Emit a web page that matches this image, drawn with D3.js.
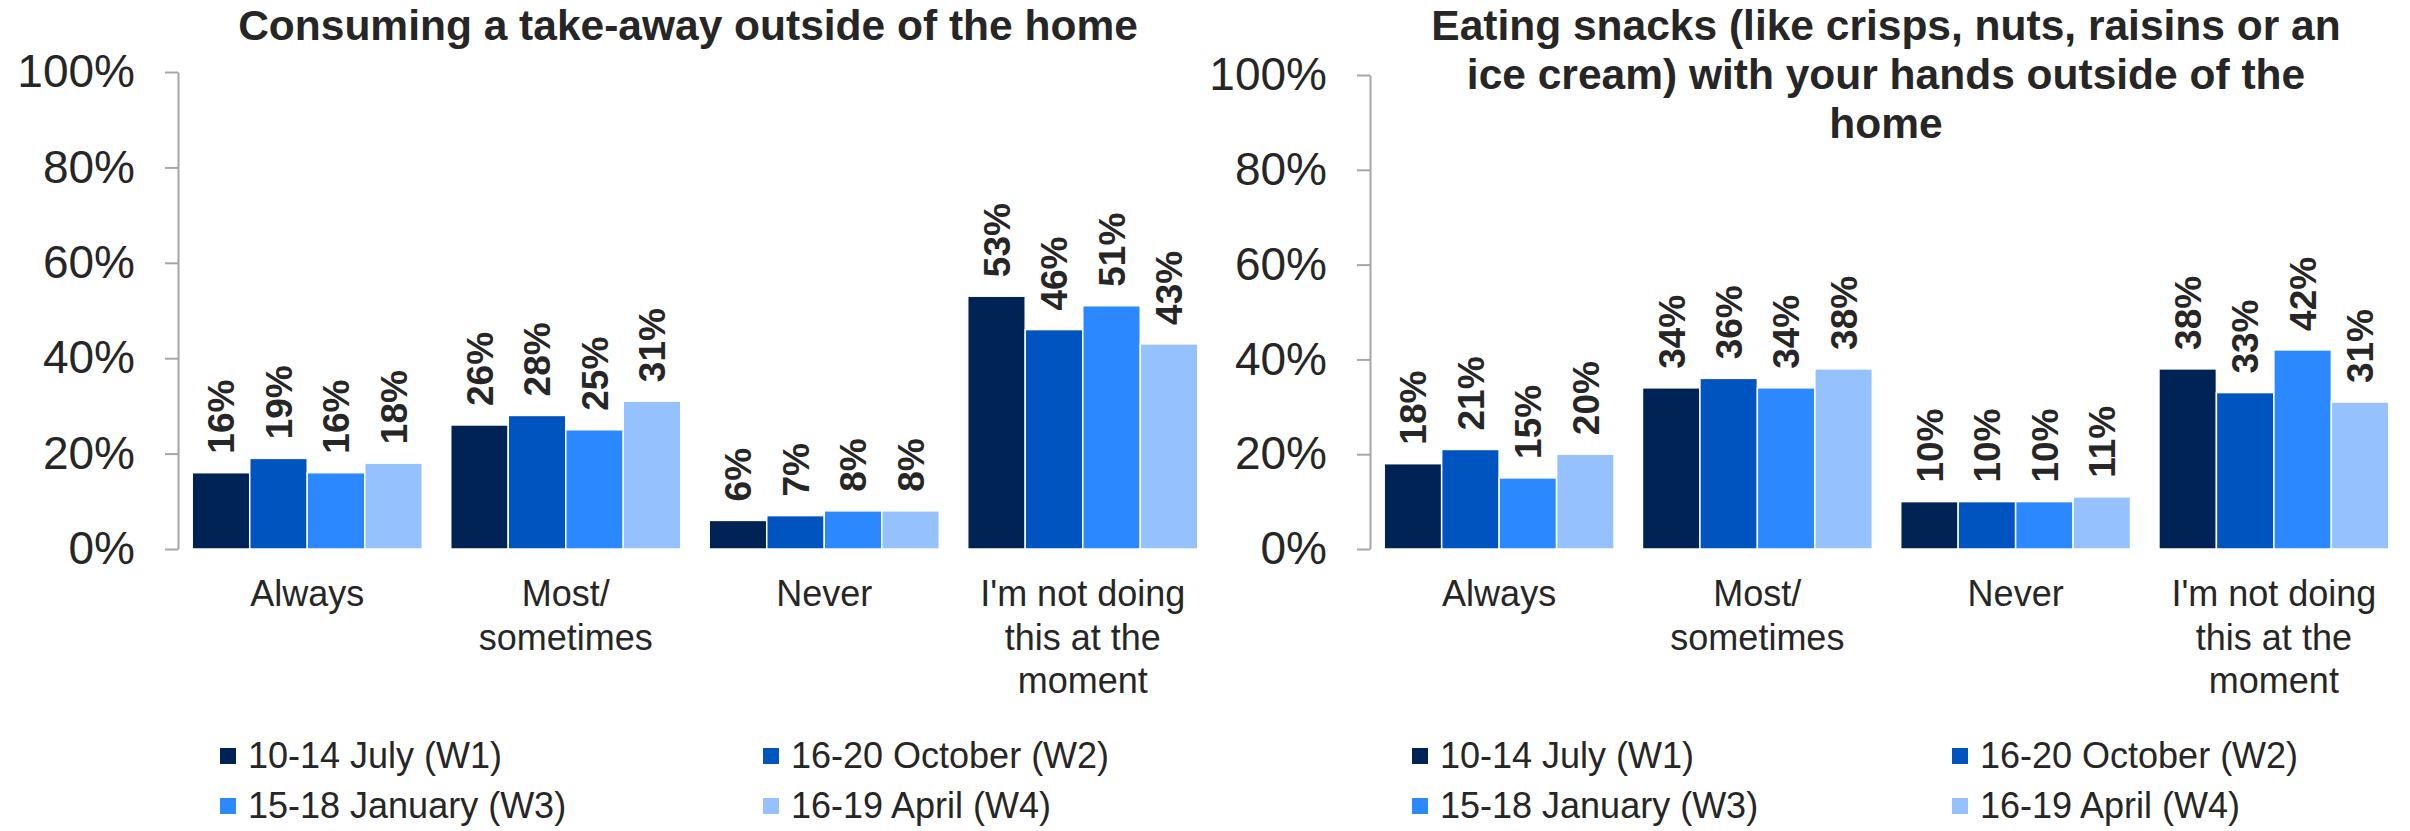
<!DOCTYPE html>
<html>
<head>
<meta charset="utf-8">
<script src="https://cdn.jsdelivr.net/npm/d3@7"></script>
<style>
  body { margin: 0; background: #fff; }
  text { font-family: "Liberation Sans", Arial, sans-serif; fill: #262626; }
</style>
</head>
<body>
<script>
// categories on the x axis, shared by both panels
var categories = ["Always", "Most/ sometimes", "Never", "I'm not doing this at the moment"];
var waves = ["10-14 July (W1)", "16-20 October (W2)", "15-18 January (W3)", "16-19 April (W4)"];
var waveColors = ["#002355", "#0054C0", "#2B88FF", "#95C2FF"];
var yTicks = [0, 20, 40, 60, 80, 100];

// one row per category, one value per wave
var takeawayValues = [
    [16, 19, 16, 18],
    [26, 28, 25, 31],
    [6, 7, 8, 8],
    [53, 46, 51, 43]
];
var snackValues = [
    [18, 21, 15, 20],
    [34, 36, 34, 38],
    [10, 10, 10, 11],
    [38, 33, 42, 31]
];

var takeawayTitle = ["Consuming a take-away outside of the home"];
var snackTitle = ["Eating snacks (like crisps, nuts, raisins or an",
    "ice cream) with your hands outside of the", "home"];

var svg = d3.select("body").append("svg")
    .attr("width", 2410)
    .attr("height", 831);

function wrap(textSel, width, lineHeight) {
    textSel.each(function () {
        var text = d3.select(this),
            words = text.text().split(/\s+/),
            x = text.attr("x"),
            line = [],
            tspan = text.text(null).append("tspan").attr("x", x).attr("dy", 0);
        words.forEach(function (w) {
            line.push(w);
            tspan.text(line.join(" "));
            if (tspan.node().getComputedTextLength() > width && line.length > 1) {
                line.pop();
                tspan.text(line.join(" "));
                line = [w];
                tspan = text.append("tspan").attr("x", x).attr("dy", lineHeight).text(w);
            }
        });
    });
}

function drawChart(cfg) {
    var g = svg.append("g");

    var x0 = d3.scaleBand()
        .domain(categories)
        .range([cfg.left, cfg.right])
        .paddingInner(0.11)
        .paddingOuter(0.055);

    var x1 = d3.scaleBand()
        .domain(d3.range(waves.length))
        .range([0, x0.bandwidth()]);

    var y = d3.scaleLinear()
        .domain([0, 100])
        .range([cfg.bottom, cfg.top]);

    // y axis
    var axis = g.append("g")
        .attr("transform", "translate(" + cfg.left + ",0)")
        .call(d3.axisLeft(y)
            .tickValues(yTicks)
            .tickFormat(function (d) { return d + "%"; })
            .tickSize(13)
            .tickSizeOuter(0)
            .tickPadding(30));
    axis.select(".domain").attr("stroke", "#a6a6a6").attr("stroke-width", 2);
    axis.selectAll(".tick line").attr("stroke", "#a6a6a6").attr("stroke-width", 2);
    axis.selectAll(".tick text")
        .attr("fill", "#262626")
        .style("font-size", "46px")
        .style("font-family", "'Liberation Sans', Arial, sans-serif");

    // bars
    var groups = g.selectAll(".cat")
        .data(cfg.values)
        .enter().append("g")
        .attr("class", "cat")
        .attr("transform", function (d, i) { return "translate(" + x0(categories[i]) + ",0)"; });

    groups.selectAll("rect")
        .data(function (d) { return d; })
        .enter().append("rect")
        .attr("x", function (d, j) { return x1(j); })
        .attr("y", function (d) { return y(d); })
        .attr("width", x1.bandwidth())
        .attr("height", function (d) { return y(0) - y(d); })
        .attr("fill", function (d, j) { return waveColors[j]; })
        .attr("stroke", "#fff")
        .attr("stroke-width", 1.5);

    // rotated value labels
    groups.selectAll(".val")
        .data(function (d) { return d; })
        .enter().append("text")
        .attr("class", "val")
        .attr("transform", function (d, j) {
            return "translate(" + (x1(j) + x1.bandwidth() / 2) + "," + (y(d) - 19) + ") rotate(-90)";
        })
        .attr("dy", "0.36em")
        .style("font-size", "37px")
        .style("font-weight", "bold")
        .text(function (d) { return d + "%"; });

    // category labels
    g.selectAll(".catlabel")
        .data(categories)
        .enter().append("text")
        .attr("class", "catlabel")
        .attr("x", function (d) { return x0(d) + x0.bandwidth() / 2; })
        .attr("y", 606)
        .attr("text-anchor", "middle")
        .style("font-size", "36px")
        .text(function (d) { return d; })
        .call(wrap, 235, 43.5);

    // title
    g.append("text")
        .attr("text-anchor", "middle")
        .attr("x", cfg.titleX)
        .attr("y", 40)
        .style("font-size", "42.5px")
        .style("font-weight", "bold")
        .selectAll("tspan")
        .data(cfg.title)
        .enter().append("tspan")
        .attr("x", cfg.titleX)
        .attr("dy", function (d, i) { return i ? 49 : 0; })
        .text(function (d) { return d; });

    // legend 2x2
    var leg = g.selectAll(".leg")
        .data(waves)
        .enter().append("g")
        .attr("class", "leg")
        .attr("transform", function (d, i) {
            return "translate(" + cfg.legendX[i % 2] + "," + (768 + Math.floor(i / 2) * 50) + ")";
        });
    leg.append("rect")
        .attr("x", 0)
        .attr("y", -20)
        .attr("width", 16)
        .attr("height", 16)
        .attr("fill", function (d, i) { return waveColors[i]; });
    leg.append("text")
        .attr("x", 28)
        .attr("y", 0)
        .style("font-size", "36px")
        .text(function (d) { return d; });
}

drawChart({
    values: takeawayValues,
    title: takeawayTitle,
    left: 178, right: 1212, top: 72, bottom: 549,
    titleX: 688,
    legendX: [220, 763]
});

drawChart({
    values: snackValues,
    title: snackTitle,
    left: 1370, right: 2403, top: 75, bottom: 549,
    titleX: 1886,
    legendX: [1412, 1952]
});
</script>
</body>
</html>
